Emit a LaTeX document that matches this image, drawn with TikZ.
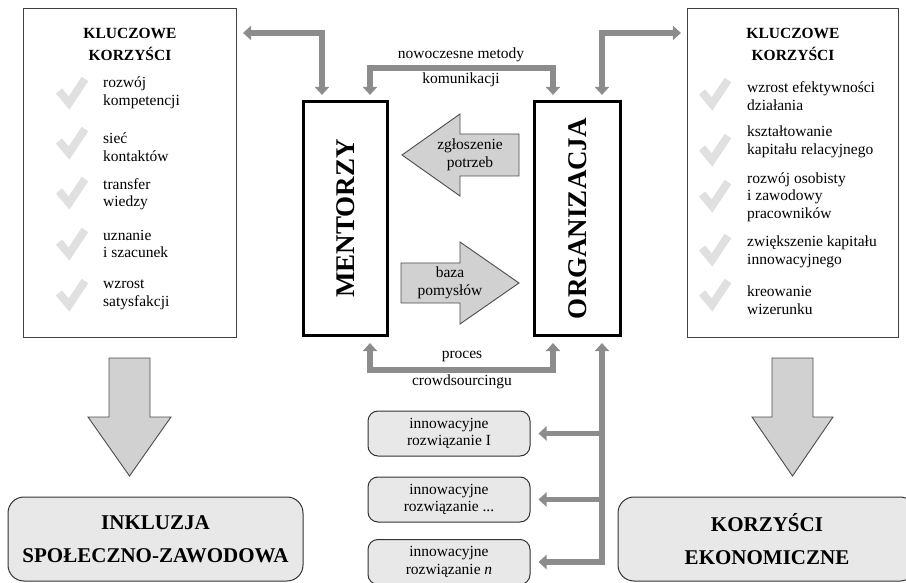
\documentclass[tikz,border=0pt]{standalone}
\usepackage{fontspec}
\setmainfont{Liberation Serif}
\usetikzlibrary{arrows.meta,positioning}
\tikzset{
  ramka/.style={draw=black!75, line width=1.1pt, minimum width=213pt, minimum height=329pt, inner sep=0pt},
  aktor/.style={draw, line width=2.6pt, minimum width=84.5pt, minimum height=234.5pt, inner sep=0pt},
  duzy/.style={font=\fontsize{27}{30}\selectfont\bfseries, inner sep=0pt},
  pole/.style={font=\fontsize{15.5}{17.5}\selectfont, align=left, inner sep=0pt, anchor=west},
  opis/.style={font=\fontsize{15.5}{17.5}\selectfont, align=center, inner sep=0pt},
  naglowek/.style={font=\fontsize{15.5}{22}\selectfont\bfseries, align=center, inner sep=0pt},
  rozw/.style={draw=black!80, line width=1pt, rounded corners=10pt, fill=black!9, minimum width=162pt, minimum height=45pt, align=center, font=\fontsize{15.5}{17.5}\selectfont, inner sep=0pt},
  efekt/.style={draw=black!80, line width=1pt, rounded corners=16pt, fill=black!9, minimum height=84pt, align=center, font=\fontsize{21}{33}\selectfont\bfseries, inner sep=0pt},
  lacze/.style={draw=black!45, line width=5.5pt, >={Triangle[width=14pt,length=8pt]}},
  blok/.style={draw=black!70, line width=0.9pt, fill=black!18, line join=miter},
  haczyk/.style={draw=black!12, line width=8pt, line join=miter, line cap=butt}
}
\begin{document}
\begin{tikzpicture}[x=1pt, y=-1pt]
\useasboundingbox (0,0) rectangle (906,583);
\node[ramka] (lewa) at (130,173) {};
\node[ramka, minimum width=211pt] (prawa) at (793,173) {};
\node[naglowek] (lnag) at (130,44) {KLUCZOWE\\KORZYŚCI};
\node[naglowek] (rnag) at (793,44) {KLUCZOWE\\KORZYŚCI};
\foreach \yy in {95,145,195,246,297}
 \draw[haczyk] (59,\yy-4) -- ++(10,12) -- ++(16,-24);
\foreach \yy in {96,152,198,252,297}
 \draw[haczyk] (702,\yy-4) -- ++(10,12) -- ++(16,-24);
\foreach \n/\yy/\t in {1/93/{rozwój\\kompetencji}, 2/147/{sieć\\kontaktów}, 3/194/{transfer\\wiedzy}, 4/244/{uznanie\\i szacunek}, 5/295/{wzrost\\satysfakcji}}
 \node[pole] (l\n) at (103,\yy) {\t};
\foreach \n/\yy/\t in {1/96/{wzrost efektywności\\działania}, 2/142/{kształtowanie\\kapitału relacyjnego}, 3/197/{rozwój osobisty\\i zawodowy\\pracowników}, 4/252/{zwiększenie kapitału\\innowacyjnego}, 5/300/{kreowanie\\wizerunku}}
 \node[pole] (r\n) at (747,\yy) {\t};
\node[aktor] (ment) at (345.5,218.5) {};
\node[aktor, minimum width=86pt] (org) at (577.5,218.5) {};
\node[duzy, rotate=90] (mentn) at (ment) {MENTORZY};
\node[duzy, rotate=90] (orgn) at (org) {ORGANIZACJA};
\draw[lacze,<->] ([xshift=6pt,yshift=-25pt]lewa.north east) -| ([xshift=-23.5pt,yshift=5pt]ment.north);
\draw[lacze,<->] ([xshift=24.5pt,yshift=5pt]ment.north) -- ++(0,-27) -| ([xshift=-24.5pt,yshift=5pt]org.north);
\draw[lacze,<->] ([xshift=24.5pt,yshift=5pt]org.north) |- ([xshift=-6pt,yshift=-25pt]prawa.north west);
\draw[lacze,<->] ([xshift=24.5pt,yshift=-6pt]ment.south) -- ++(0,27) -| ([xshift=-24.5pt,yshift=-6pt]org.south);
\node[opis] (kom1) at (461,55) {nowoczesne metody};
\node[opis] (kom2) at (461,80) {komunikacji};
\node[opis] (cr1) at (462,356) {proces};
\node[opis] (cr2) at (462,382) {crowdsourcingu};
\filldraw[blok] (519,134) -- (460,134) -- (460,114) -- (402,155) -- (460,196) -- (460,176) -- (519,176) -- cycle;
\node[opis] (zgl) at (470,155) {zgłoszenie\\potrzeb};
\filldraw[blok] (401,263) -- (460,263) -- (460,242) -- (519,283) -- (460,324) -- (460,303) -- (401,303) -- cycle;
\node[opis] (baza) at (450,283) {baza\\pomysłów};
\node[rozw] (inn1) at (449,433.5) {innowacyjne\\rozwiązanie I};
\node[rozw] (inn2) at (449,499.5) {innowacyjne\\rozwiązanie ...};
\node[rozw] (inn3) at (449,562) {innowacyjne\\rozwiązanie \textit{n}};
\coordinate (pien) at ([xshift=24.5pt]org.south);
\draw[lacze,<->] ([yshift=-6pt]pien) |- ([xshift=8pt]inn3.east);
\draw[lacze,->] (pien |- inn1.east) -- ([xshift=8pt]inn1.east);
\draw[lacze,->] (pien |- inn2.east) -- ([xshift=8pt]inn2.east);
\filldraw[blok] (109,358) -- (150,358) -- (150,417) -- (171,417) -- (129.5,476) -- (88,417) -- (109,417) -- cycle;
\filldraw[blok] (772,358) -- (813,358) -- (813,417) -- (833,417) -- (792.5,476) -- (752,417) -- (772,417) -- cycle;
\node[efekt, minimum width=295pt] (inkl) at (155.5,539) {INKLUZJA\\SPOŁECZNO-ZAWODOWA};
\node[efekt, minimum width=298pt] (ekon) at (767,539) {KORZYŚCI\\EKONOMICZNE};
\end{tikzpicture}
\end{document}
